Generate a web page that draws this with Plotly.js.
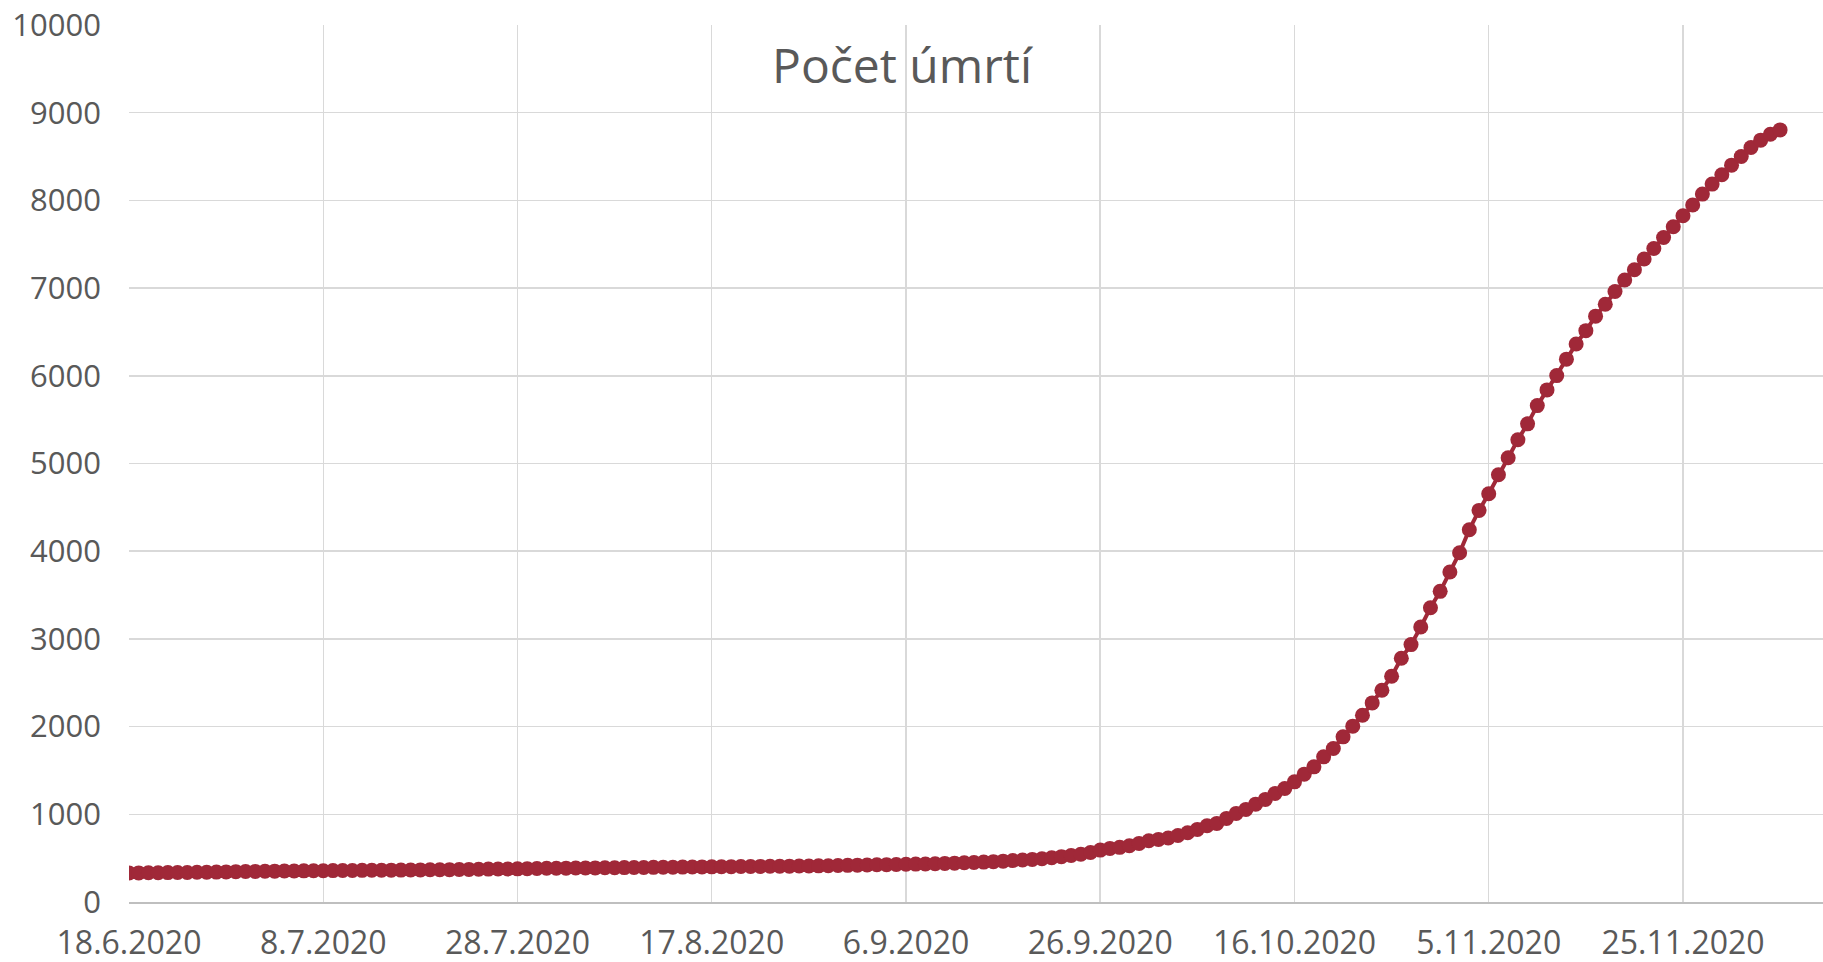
<!DOCTYPE html>
<html>
<head>
<meta charset="utf-8">
<script src="https://cdn.plot.ly/plotly-3.0.1.min.js"></script>
<style>
html,body{margin:0;padding:0;background:#fff;}
#chart{width:1823px;height:962px;}
</style>
</head>
<body>
<div id="chart"></div>
<script>
// First date of the series; one value per day
const startDate = '2020-06-18';

// Cumulative deaths, 18.6.2020 – 5.12.2020 (daily)
const deathsJune = [331,332,333,334,335,336,337,339,340,341,343,346,348];
const deathsJuly = [349,351,352,353,354,355,356,357,358,359,360,361,362,362,363,364,365,366,367,368,369,370,372,373,375,376,377,378,380,382,384];
const deathsAugust = [385,386,387,388,389,390,391,392,393,394,395,396,397,398,399,400,401,402,403,404,405,406,407,408,409,410,411,412,414,416,418];
const deathsSeptember = [420,422,424,426,428,430,432,434,437,440,443,447,451,455,460,466,472,479,486,494,505,517,530,545,565,592,611,623,641,668];
const deathsOctober = [698,714,729,759,789,828,869,896,953,1010,1056,1116,1170,1238,1295,1370,1458,1541,1655,1750,1883,2005,2130,2270,2415,2574,2780,2935,3136,3356,3542];
const deathsNovember = [3762,3983,4245,4465,4655,4871,5065,5270,5452,5660,5839,6002,6190,6363,6515,6680,6815,6962,7092,7210,7331,7452,7577,7699,7825,7947,8072,8186,8292,8402];
const deathsDecember = [8500,8603,8687,8755,8804];

// X-axis tick labels (every 20 days)
const xTickLabels = ['18.6.2020','8.7.2020','28.7.2020','17.8.2020','6.9.2020','26.9.2020','16.10.2020','5.11.2020','25.11.2020'];
const yTickValues = [0,1000,2000,3000,4000,5000,6000,7000,8000,9000,10000];
const chartTitle = 'Počet úmrtí';

const deaths = [].concat(deathsJune, deathsJuly, deathsAugust, deathsSeptember, deathsOctober, deathsNovember, deathsDecember);

function addDays(iso, n) {
  const d = new Date(iso + 'T00:00:00Z');
  d.setUTCDate(d.getUTCDate() + n);
  return d.toISOString().slice(0, 10);
}
function labelToIso(lbl) {
  const p = lbl.split('.');
  return p[2] + '-' + String(p[1]).padStart(2, '0') + '-' + String(p[0]).padStart(2, '0');
}

const dates = deaths.map((_, i) => addDays(startDate, i));
const xTickVals = xTickLabels.map(labelToIso);

const font = '"Open Sans", "DejaVu Sans", sans-serif';
const textColor = '#595959';
const gridColor = '#d9d9d9';

const trace = {
  x: dates,
  y: deaths,
  type: 'scatter',
  mode: 'lines+markers',
  line: {color: '#A02838', width: 4},
  marker: {color: '#A02838', size: 15},
  hoverinfo: 'x+y'
};

const layout = {
  width: 1823,
  height: 962,
  margin: {l: 129, r: 0, t: 25, b: 60},
  paper_bgcolor: '#ffffff',
  plot_bgcolor: '#ffffff',
  showlegend: false,
  font: {family: font, color: textColor, size: 30},
  title: {
    text: chartTitle,
    font: {family: font, size: 48, color: textColor},
    xref: 'container', yref: 'container',
    x: 902 / 1823, xanchor: 'center',
    y: 1 - 66 / 962, yanchor: 'middle'
  },
  xaxis: {
    type: 'date',
    range: ['2020-06-18', '2020-12-09 10:00'],
    tickmode: 'array',
    tickvals: xTickVals,
    ticktext: xTickLabels,
    showgrid: true,
    gridcolor: gridColor,
    gridwidth: 1.5,
    showline: true,
    linecolor: '#bfbfbf',
    linewidth: 2,
    ticks: '',
    ticklabelstandoff: 12,
    tickfont: {family: font, size: 32, color: textColor},
    zeroline: false,
    fixedrange: true
  },
  yaxis: {
    range: [0, 10000],
    tickmode: 'array',
    tickvals: yTickValues,
    ticktext: yTickValues.map(String),
    showgrid: true,
    gridcolor: gridColor,
    gridwidth: 1.5,
    zeroline: false,
    showline: false,
    ticks: '',
    ticklabelstandoff: 27,
    tickfont: {family: font, size: 31, color: textColor},
    fixedrange: true
  }
};

Plotly.newPlot('chart', [trace], layout, {displayModeBar: false, staticPlot: true});
</script>
</body>
</html>
